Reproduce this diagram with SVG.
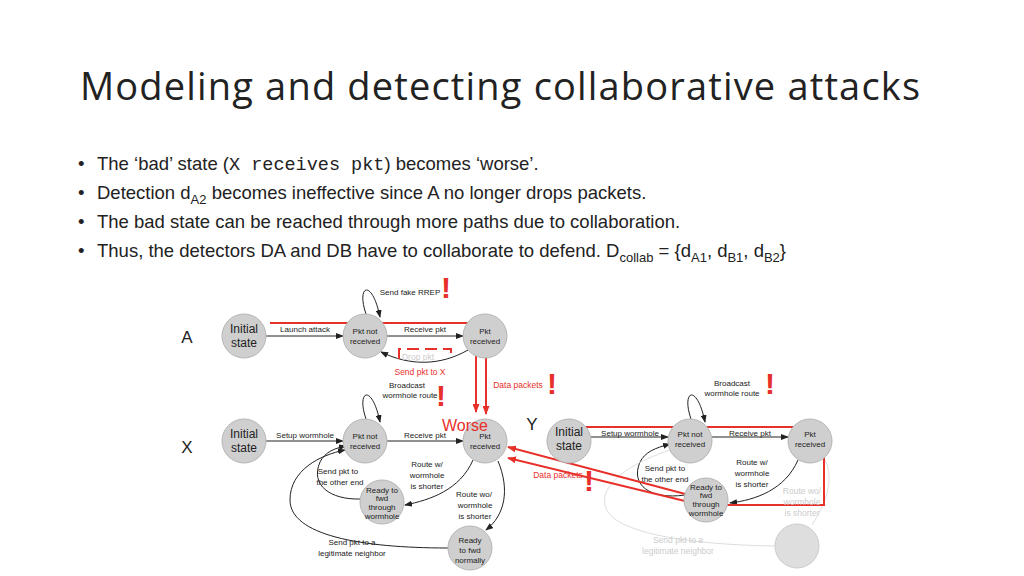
<svg xmlns="http://www.w3.org/2000/svg" width="1024" height="576" viewBox="0 0 1024 576">
<style>
text{font-family:"Liberation Sans",Arial,sans-serif}
.t{font-family:"Open Sans","Liberation Sans",sans-serif;fill:#222}
.n{fill:#cfcfcf;stroke:#b5b5b5;stroke-width:1}
.f{fill:#dedede;stroke:#ccc;stroke-width:1}
.l{font-size:12px;fill:#222;text-anchor:middle}
.s{font-size:8px;fill:#222;text-anchor:middle}
.g{font-size:8.5px;fill:#ccc;text-anchor:middle}
.r{font-size:8.5px;fill:#e8302a;text-anchor:middle}
.e{stroke:#222;stroke-width:1;fill:none;marker-end:url(#a)}
.eg{stroke:#ddd;stroke-width:1;fill:none}
.red{stroke:#e8302a;stroke-width:2;fill:none}
.ex{font-size:30px;font-weight:bold;fill:#e8302a;text-anchor:middle}
</style>
<defs>
<marker id="a" markerWidth="8" markerHeight="6" refX="7" refY="3" orient="auto" markerUnits="userSpaceOnUse"><path d="M0,0L8,3L0,6z" fill="#222"/></marker>
<marker id="ar" markerWidth="9" markerHeight="7" refX="8" refY="3.5" orient="auto" markerUnits="userSpaceOnUse"><path d="M0,0L9,3.5L0,7z" fill="#e8302a"/></marker>
</defs>
<rect width="1024" height="576" fill="#fff"/>
<text class="t" x="80" y="100" font-size="38" textLength="840">Modeling and detecting collaborative attacks</text>
<g class="t" font-size="18.5">
<text x="78" y="170">•</text><text x="97" y="170">The ‘bad’ state (<tspan font-family="Liberation Mono,monospace">X receives pkt</tspan>) becomes ‘worse’.</text>
<text x="78" y="199">•</text><text x="97" y="199">Detection d<tspan font-size="13" dy="5">A2</tspan><tspan dy="-5"> becomes ineffective since A no longer drops packets.</tspan></text>
<text x="78" y="228">•</text><text x="97" y="228">The bad state can be reached through more paths due to collaboration.</text>
<text x="78" y="257">•</text><text x="97" y="257">Thus, the detectors DA and DB have to collaborate to defend. D<tspan font-size="13" dy="5">collab</tspan><tspan dy="-5"> =  {d</tspan><tspan font-size="13" dy="5">A1</tspan><tspan dy="-5">, d</tspan><tspan font-size="13" dy="5">B1</tspan><tspan dy="-5">, d</tspan><tspan font-size="13" dy="5">B2</tspan><tspan dy="-5">}</tspan></text>
</g>
<text x="187" y="343" font-size="17" fill="#222" text-anchor="middle">A</text>
<text x="187" y="453" font-size="17" fill="#222" text-anchor="middle">X</text>
<text x="532" y="430" font-size="17" fill="#222" text-anchor="middle">Y</text>
<g id="connectors">
<path class="e" d="M266,336H343"/>
<path class="e" d="M387,336H463"/>
<path class="e" d="M366,314C356,285 372,278 380,317"/>
<path class="e" d="M468,350C440,366 410,366 381,352"/>
<path class="e" d="M266,441H343"/>
<path class="e" d="M387,441H463"/>
<path class="e" d="M366,419C356,390 372,383 380,422"/>
<path class="e" d="M473,460C460,490 430,500 405,505"/>
<path class="e" d="M498,461C510,490 505,515 486,530"/>
<path class="e" d="M361,499C330,500 310,485 320,462 C325,452 335,448 346,446"/>
<path class="e" d="M448,548C360,548 290,535 290,500 C290,470 320,455 345,450"/>
<path class="e" d="M591,437H668"/>
<path class="e" d="M712,437H788"/>
<path class="e" d="M691,419C681,390 697,383 705,422"/>
<path class="e" d="M798,460C785,490 755,500 730,503"/>
<path class="e" d="M685,495C650,500 630,485 640,462 C645,452 655,448 670,444"/>
<path class="eg" d="M825,460C835,480 825,505 812,525"/>
<path class="eg" d="M775,546C700,545 610,535 605,505 C600,480 640,460 670,450"/>
<path class="red" d="M270,323H476V412" marker-end="url(#ar)"/>
<path class="red" d="M486,355V414" marker-end="url(#ar)"/>
<path class="red" stroke-width="3" stroke-dasharray="12,6" d="M399,359V349H451V359"/>
<path class="red" d="M580,427H824V505H690"/>
<path class="red" d="M689,495L508,447" marker-end="url(#ar)" stroke-width="1.5"/>
<path class="red" d="M689,502L508,458" marker-end="url(#ar)"/>
</g>
<g id="A_init"><circle class="n" cx="244" cy="336" r="22"/><text class="l" x="244" y="333">Initial</text><text class="l" x="244" y="347">state</text></g>
<g id="A_notrec"><circle class="n" cx="365" cy="336" r="22"/><text class="s" x="365" y="334">Pkt not</text><text class="s" x="365" y="344">received</text></g>
<g id="A_rec"><circle class="n" cx="485" cy="336" r="22"/><text class="s" x="485" y="334">Pkt</text><text class="s" x="485" y="344">received</text></g>
<g id="X_init"><circle class="n" cx="244" cy="441" r="22"/><text class="l" x="244" y="438">Initial</text><text class="l" x="244" y="452">state</text></g>
<g id="X_notrec"><circle class="n" cx="365" cy="441" r="22"/><text class="s" x="365" y="439">Pkt not</text><text class="s" x="365" y="449">received</text></g>
<g id="X_rec"><circle class="n" cx="485" cy="441" r="22"/><text class="s" x="485" y="439">Pkt</text><text class="s" x="485" y="449">received</text></g>
<g id="X_worm"><circle class="n" cx="382" cy="502" r="22"/><text class="s" x="382" y="493" font-size="6.5">Ready to</text><text class="s" x="382" y="501" font-size="6.5">fwd</text><text class="s" x="382" y="510" font-size="6.5">through</text><text class="s" x="382" y="519" font-size="6.5">wormhole</text></g>
<g id="X_norm"><circle class="n" cx="470" cy="548" r="22"/><text class="s" x="470" y="543">Ready</text><text class="s" x="470" y="553">to fwd</text><text class="s" x="470" y="563">normally</text></g>
<g id="Y_init"><circle class="n" cx="569" cy="441" r="22"/><text class="l" x="569" y="436">Initial</text><text class="l" x="569" y="450">state</text></g>
<g id="Y_notrec"><circle class="n" cx="690" cy="441" r="22"/><text class="s" x="690" y="437">Pkt not</text><text class="s" x="690" y="447">received</text></g>
<g id="Y_rec"><circle class="n" cx="810" cy="441" r="22"/><text class="s" x="810" y="437">Pkt</text><text class="s" x="810" y="447">received</text></g>
<g id="Y_worm"><circle class="n" cx="706" cy="500" r="22"/><text class="s" x="706" y="490" font-size="6.5">Ready to</text><text class="s" x="706" y="498" font-size="6.5">fwd</text><text class="s" x="706" y="507" font-size="6.5">through</text><text class="s" x="706" y="516" font-size="6.5">wormhole</text></g>
<g id="Y_norm"><circle class="f" cx="797" cy="546" r="22"/></g>
<g id="labels">
<text class="s" x="410" y="295">Send fake RREP</text>
<text class="s" x="305" y="332">Launch attack</text>
<text class="s" x="425" y="332">Receive pkt</text>
<text class="g" x="418" y="360" font-size="8" fill="#e8e8e8">Drop pkt</text>
<text class="r" x="420" y="375" font-size="8">Send pkt to X</text>
<text class="s" x="407" y="388">Broadcast</text>
<text class="s" x="410" y="398">wormhole route</text>
<text class="r" x="518" y="388" font-size="8">Data packets</text>
<text x="465" y="431" font-size="16" fill="#e8302a" text-anchor="middle">Worse</text>
<text class="s" x="305" y="438">Setup wormhole</text>
<text class="s" x="425" y="438">Receive pkt</text>
<text class="s" x="427" y="467">Route w/</text>
<text class="s" x="427" y="478">wormhole</text>
<text class="s" x="427" y="489">is shorter</text>
<text class="s" x="338" y="474">Send pkt to</text>
<text class="s" x="340" y="485">the other end</text>
<text class="s" x="474" y="497">Route wo/</text>
<text class="s" x="475" y="508">wormhole</text>
<text class="s" x="475" y="519">is shorter</text>
<text class="s" x="352" y="545">Send pkt to a</text>
<text class="s" x="352" y="556">legitimate neighbor</text>
<text class="s" x="630" y="436">Setup wormhole</text>
<text class="s" x="750" y="436">Receive pkt</text>
<text class="s" x="732" y="386">Broadcast</text>
<text class="s" x="732" y="396">wormhole route</text>
<text class="s" x="752" y="465">Route w/</text>
<text class="s" x="752" y="476">wormhole</text>
<text class="s" x="752" y="487">is shorter</text>
<text class="s" x="665" y="471">Send pkt to</text>
<text class="s" x="665" y="482">the other end</text>
<text class="r" x="558" y="478" font-size="8">Data packets</text>
<text class="g" x="802" y="494" font-size="8">Route wo/</text>
<text class="g" x="802" y="505" font-size="8">wormhole</text>
<text class="g" x="802" y="516" font-size="8">is shorter</text>
<text class="g" x="678" y="543" font-size="8">Send pkt to a</text>
<text class="g" x="678" y="554" font-size="8">legitimate neighbor</text>
<text class="ex" x="446" y="298">!</text>
<text class="ex" x="441" y="406">!</text>
<text class="ex" x="552" y="394">!</text>
<text class="ex" x="770" y="394">!</text>
<text class="ex" x="589" y="491">!</text>
</g>
</svg>
